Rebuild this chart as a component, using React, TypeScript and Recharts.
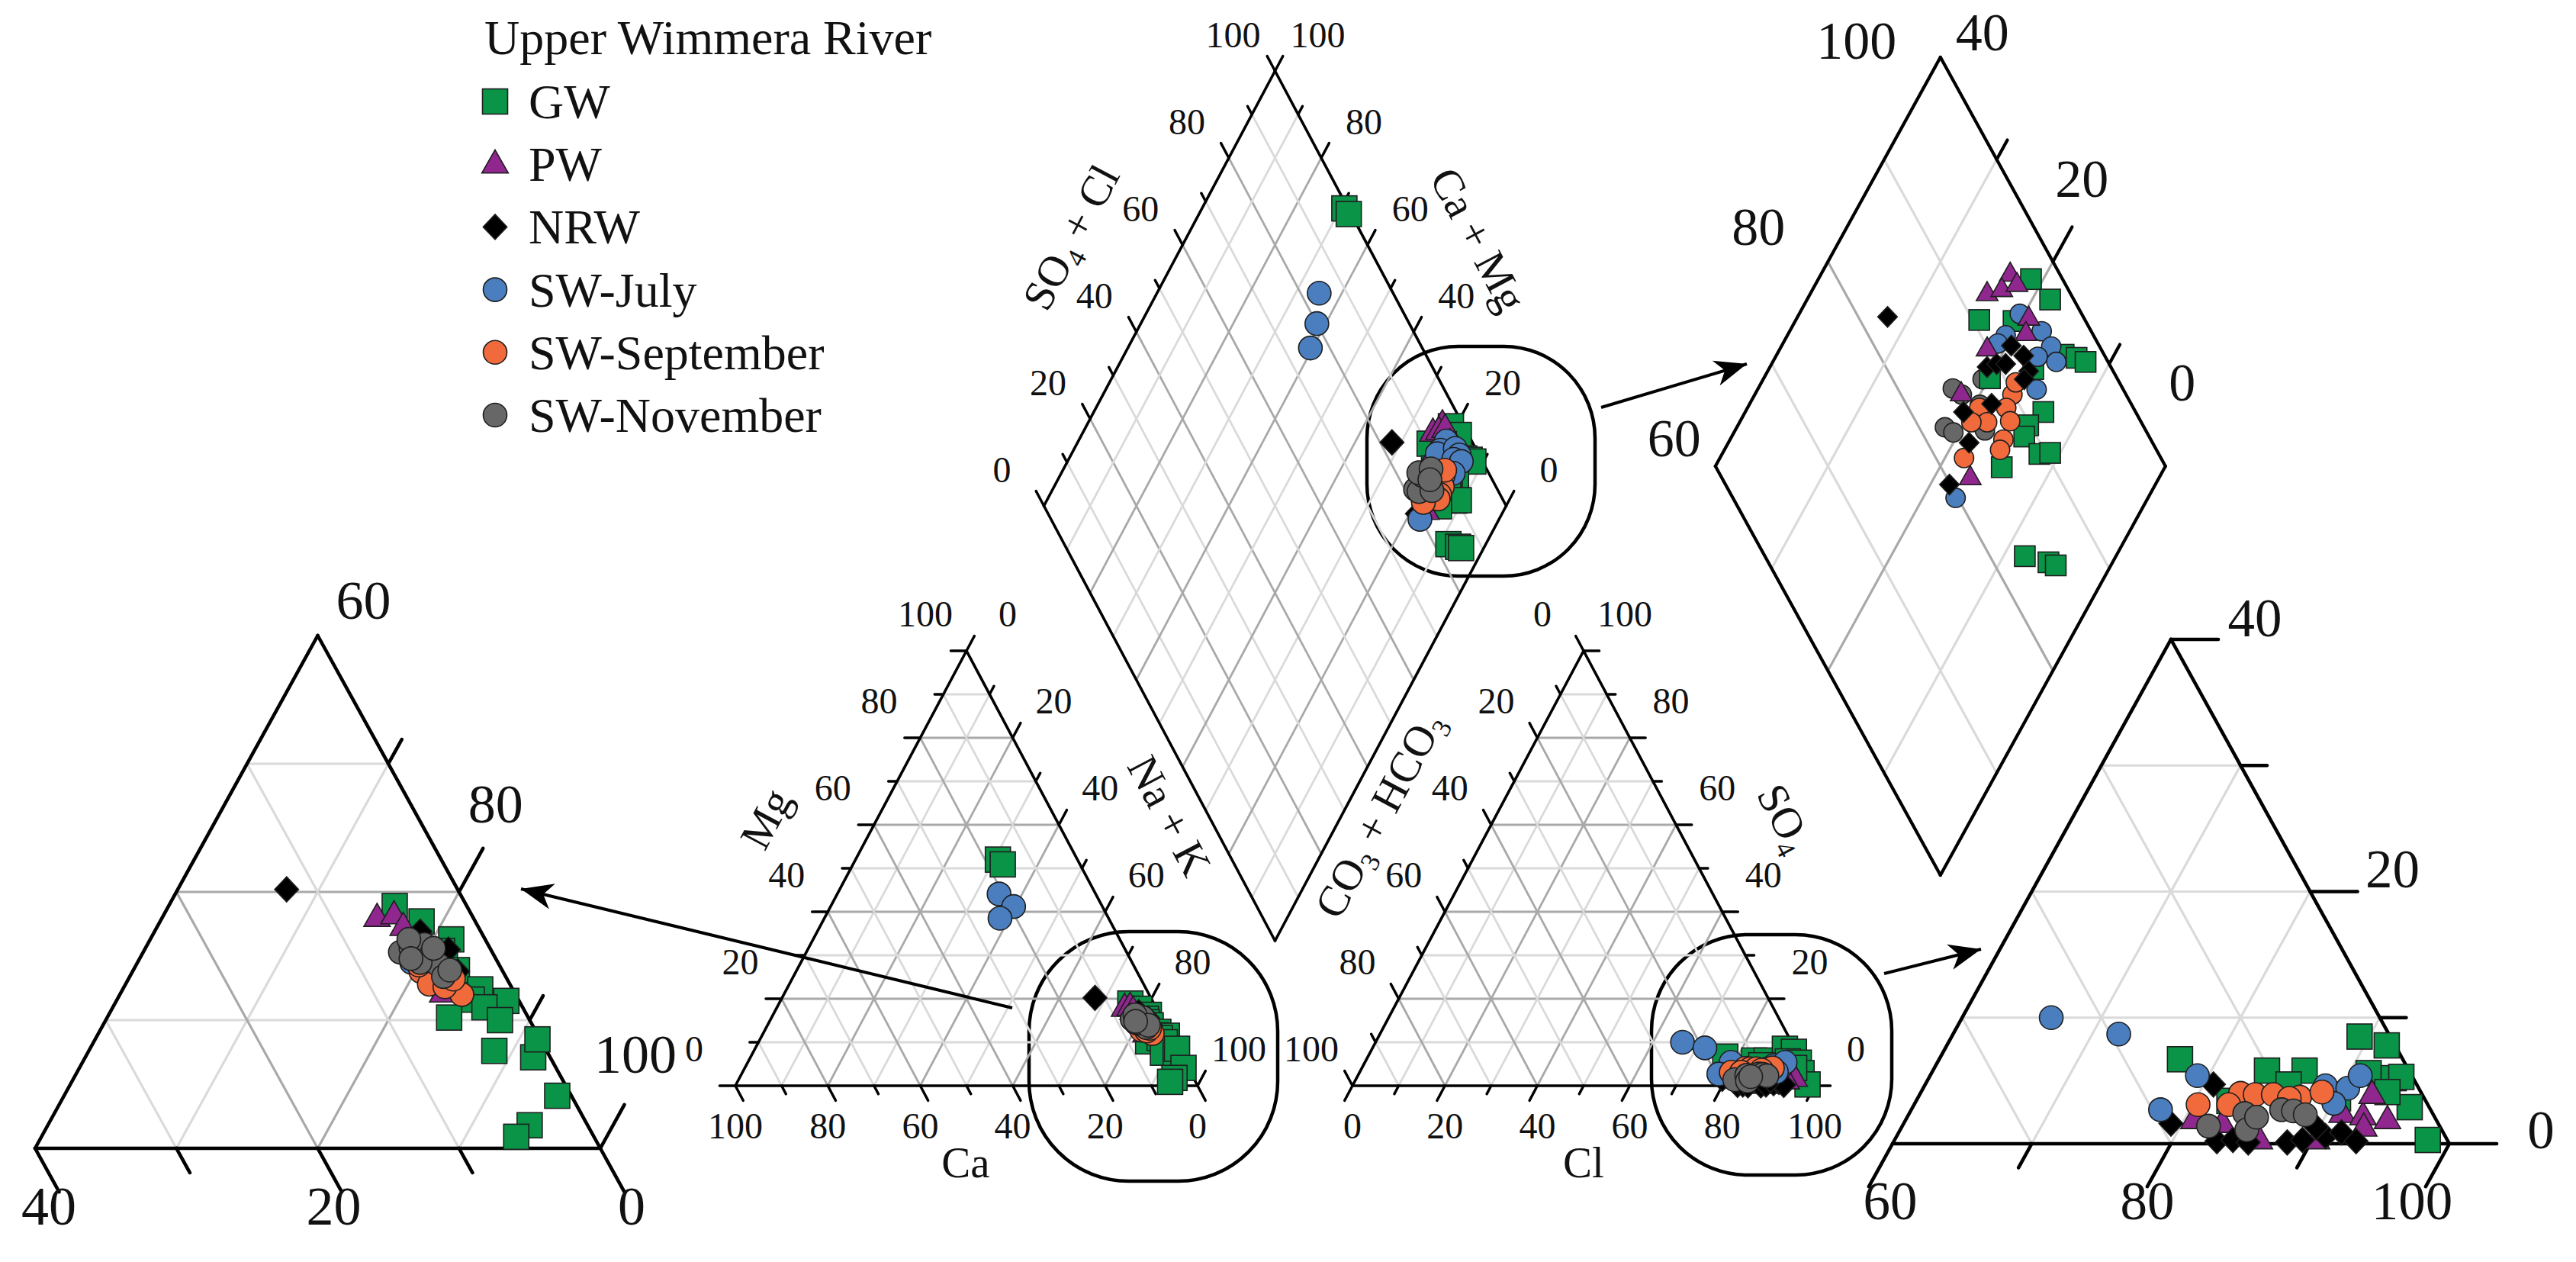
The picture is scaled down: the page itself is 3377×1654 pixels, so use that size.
import React from "react";
import { ScatterChart, Scatter, XAxis, YAxis, ReferenceLine, ReferenceArea } from "recharts";

const W = 3377;
const H = 1654;
const FONT = '"Liberation Serif", "Times New Roman", serif';
const MAJOR = "#a9a9a9";
const MINOR = "#dadada";

// ---- sample compositions, % of meq/L ----
// cation triangle: [Mg, Na+K]
const gwCation = [
  [52.0, 30.8], [50.9, 32.4], [18.9, 76.0], [17.7, 78.5], [16.3, 81.3], [15.4, 81.1],
  [14.6, 81.7], [13.9, 82.9], [12.4, 85.3], [11.6, 85.1], [11.5, 87.6], [10.2, 84.2],
  [11.0, 86.3], [10.0, 87.9], [7.6, 88.7], [7.1, 91.7], [8.5, 91.3], [4.1, 94.9],
  [1.8, 94.1], [0.9, 93.6],
];
const pwCation = [[18.0, 75.2], [18.2, 76.3], [17.3, 77.4], [15.0, 80.5], [12.1, 82.8], [14.0, 81.5]];
const nrwCation = [[20.2, 67.7], [16.9, 78.8], [13.8, 83.0], [15.5, 81.5], [14.8, 80.8]];
const julyCation = [[44.1, 35.0], [41.2, 39.6], [38.5, 38.0], [14.5, 79.4], [13.5, 81.8]];
const sepCation = [[13.8, 80.4], [12.8, 81.5], [12.0, 84.2], [12.6, 82.7], [14.3, 80.0], [13.2, 83.0]];
const novCation = [
  [15.3, 78.2], [15.6, 78.8], [15.9, 79.6], [14.9, 80.4], [14.3, 81.4], [13.4, 82.2],
  [14.5, 80.0], [15.6, 80.4], [16.3, 78.3], [13.9, 82.4], [14.8, 79.2],
];

// anion triangle: [SO4, Cl]
const gwAnion = [
  [6.7, 77.3], [5.8, 84.0], [5.8, 86.7], [8.5, 89.3], [7.8, 91.6], [5.6, 91.4], [5.2, 93.4],
  [5.3, 93.9], [2.9, 95.7], [0.3, 98.3], [3.6, 90.2], [4.7, 86.1], [3.4, 82.5], [3.2, 87.1],
  [4.1, 93.5],
];
const pwAnion = [[1.9, 80.7], [1.6, 82.9], [0.3, 86.2], [2.4, 91.1], [2.2, 92.7], [3.9, 92.5], [1.9, 94.6], [1.3, 93.2], [0.3, 90.3]];
const nrwAnion = [
  [4.7, 80.7], [1.6, 79.2], [0.2, 83.2], [0.3, 84.3], [0.1, 85.5], [0.1, 88.3], [0.3, 89.3],
  [0.6, 90.8], [0.9, 91.8], [0.2, 93.2], [1.3, 89.8],
];
const julyAnion = [[10.0, 66.4], [8.7, 71.9], [5.4, 79.2], [2.7, 77.9], [4.6, 88.8], [4.4, 90.5], [5.4, 90.9], [3.2, 90.1]];
const sepAnion = [[3.1, 80.4], [4.0, 83.0], [3.9, 84.1], [3.9, 85.4], [3.7, 87.4], [4.1, 88.8], [3.1, 82.6], [3.6, 86.7]];
const novAnion = [[1.4, 82.0], [2.4, 84.1], [1.1, 84.9], [2.7, 86.6], [2.6, 87.5], [2.3, 88.5], [2.1, 85.1]];

// diamond: [SO4+Cl, Ca+Mg]
const gwDiamond = [
  [99.2, 69.2], [99.5, 67.6], [97.2, 21.1], [97.9, 18.4], [90.6, 23.7], [93.6, 20.6],
  [96.4, 14.5], [97.4, 13.2], [98.0, 12.2], [88.7, 19.9], [91.8, 13.5], [89.8, 14.2],
  [88.9, 14.0], [89.4, 11.8], [90.4, 10.9], [85.4, 14.5], [83.1, 8.1], [84.9, 5.7],
  [85.4, 4.9], [93.0, 16.5],
];
const pwDiamond = [[95.6, 23.2], [92.6, 24.3], [94.1, 23.2], [95.7, 22.1], [95.1, 19.4], [94.1, 18.9], [89.9, 21.6], [85.4, 21.7], [82.1, 16.8]];
const nrwDiamond = [
  [82.6, 32.0], [92.2, 19.6], [92.8, 18.0], [89.0, 20.7], [90.0, 20.0], [90.8, 19.2],
  [92.5, 16.8], [91.7, 16.8], [84.7, 20.6], [87.6, 18.5], [83.7, 18.6], [79.9, 18.3],
];
const julyDiamond = [
  [84.0, 64.9], [80.0, 61.9], [75.8, 60.5], [94.5, 20.4], [92.2, 20.6], [91.1, 20.9],
  [95.6, 17.6], [95.7, 16.0], [94.0, 16.7], [95.4, 14.8], [92.3, 15.2], [79.8, 17.1],
];
const sepDiamond = [[89.9, 17.1], [88.7, 17.0], [86.3, 19.4], [86.3, 18.0], [88.4, 16.0], [86.9, 15.7], [86.1, 15.5], [82.5, 18.3], [90.8, 17.4], [84.9, 19.4]];
const novDiamond = [[82.3, 21.5], [82.8, 20.5], [85.7, 17.8], [85.4, 21.6], [84.9, 22.7], [88.0, 20.5], [86.5, 19.5]];

const groups = [
  { name: "GW", color: "#0a9447", kind: "square", cation: gwCation, anion: gwAnion, diamond: gwDiamond },
  { name: "PW", color: "#90278e", kind: "triangle", cation: pwCation, anion: pwAnion, diamond: pwDiamond },
  { name: "NRW", color: "#000000", kind: "diamond", cation: nrwCation, anion: nrwAnion, diamond: nrwDiamond },
  { name: "SW-July", color: "#4a7ebf", kind: "circle", cation: julyCation, anion: julyAnion, diamond: julyDiamond },
  { name: "SW-September", color: "#f06a3c", kind: "circle", cation: sepCation, anion: sepAnion, diamond: sepDiamond },
  { name: "SW-November", color: "#676767", kind: "circle", cation: novCation, anion: novAnion, diamond: novDiamond },
];

const mainTicks = [0, 20, 40, 60, 80, 100];

// ---- layout frames ----
type Pt = { x: number; y: number };
type Tri = { ox: number; oy: number; x0: number; L: number; sx: number; sy: number };
type Dia = { bx: number; by: number; a0: number; b0: number; L: number; hx: number; hy: number };

const catMain: Tri = { ox: 964, oy: 1423, x0: 0, L: 100, sx: 6.06, sy: 5.7 };
const aniMain: Tri = { ox: 1773, oy: 1423, x0: 0, L: 100, sx: 6.06, sy: 5.7 };
const catZoom: Tri = { ox: 46, oy: 1505, x0: 60, L: 40, sx: 18.525, sy: 16.8 };
const aniZoom: Tri = { ox: 2481, oy: 1499, x0: 60, L: 40, sx: 18.25, sy: 16.525 };
const diaMain: Dia = { bx: 1671.5, by: 1233, a0: 0, b0: 0, L: 100, hx: 3.03, hy: 5.7 };
const diaZoom: Dia = { bx: 2543.8, by: 1147, a0: 60, b0: 0, L: 40, hx: 7.375, hy: 13.4 };

const toTri = (f: Tri, x: number, y: number): Pt => ({ x: f.ox + f.sx * (x - f.x0), y: f.oy - f.sy * y });
const toDia = (f: Dia, a: number, b: number): Pt => ({
  x: f.bx + f.hx * (a - f.a0 - (b - f.b0)),
  y: f.by - f.hy * (a - f.a0 + (b - f.b0)),
});
const inTri = (f: Tri, x: number, y: number) =>
  y >= -0.5 && y <= 2 * (x - f.x0) + 0.5 && y <= 2 * (f.x0 + f.L - x) + 0.5;
const inDia = (f: Dia, a: number, b: number) =>
  a >= f.a0 - 0.5 && a <= f.a0 + f.L + 0.5 && b >= f.b0 - 0.5 && b <= f.b0 + f.L + 0.5;

// cation: x = Na+K + Mg/2 ; anion: x = Cl + SO4/2 ; y = Mg / SO4
const triXY = (v: number[]) => [v[1] + v[0] / 2, v[0]];

// ---- line work ----
type Seg = { p: Pt; q: Pt; stroke: string; w: number };
const segs: Seg[] = [];
const add = (p: Pt, q: Pt, stroke: string, w: number) => segs.push({ p, q, stroke, w });
const shade = (v: number, light: boolean) => (!light && v % 20 === 0 ? MAJOR : MINOR);

function triGrid(f: Tri, gw: number, ew: number, light = false) {
  const P = (x: number, y: number) => toTri(f, x, y);
  const x1 = f.x0 + f.L;
  for (let v = 10; v < f.L; v += 10) {
    const k = f.x0 + v;
    add(P(f.x0 + v / 2, v), P(x1 - v / 2, v), shade(v, light), gw);
    add(P(k, 0), P((k + f.x0) / 2, k - f.x0), shade(k, light), gw);
    add(P(k, 0), P((k + x1) / 2, x1 - k), shade(k, light), gw);
  }
  const A = P(f.x0, 0), B = P(x1, 0), C = P(f.x0 + f.L / 2, f.L);
  add(A, B, "#000", ew);
  add(B, C, "#000", ew);
  add(C, A, "#000", ew);
}

function diaGrid(f: Dia, gw: number, ew: number) {
  const Q = (a: number, b: number) => toDia(f, a, b);
  for (let v = 10; v < f.L; v += 10) {
    const a = f.a0 + v;
    const b = f.b0 + v;
    add(Q(a, f.b0), Q(a, f.b0 + f.L), shade(a, false), gw);
    add(Q(f.a0, b), Q(f.a0 + f.L, b), shade(b, false), gw);
  }
  const c = [Q(f.a0, f.b0), Q(f.a0 + f.L, f.b0), Q(f.a0 + f.L, f.b0 + f.L), Q(f.a0, f.b0 + f.L)];
  c.forEach((p, i) => add(p, c[(i + 1) % 4], "#000", ew));
}

function tickAt(P: (x: number, y: number) => Pt, x: number, y: number, dx: number, dy: number, major: boolean, w: number) {
  const d = major ? 3.4 : 1.9;
  add(P(x, y), P(x + dx * d, y + dy * d), "#000", w);
}

triGrid(catMain, 2.8, 3.6);
triGrid(aniMain, 2.8, 3.6);
diaGrid(diaMain, 2.8, 3.6);
triGrid(catZoom, 3.2, 4.6);
triGrid(aniZoom, 3.2, 4.6, true);
diaGrid(diaZoom, 3.2, 4.2);

{
  const Pc = (x: number, y: number) => toTri(catMain, x, y);
  const Pa = (x: number, y: number) => toTri(aniMain, x, y);
  const Qd = (a: number, b: number) => toDia(diaMain, a, b);
  for (let v = 0; v <= 100; v += 10) {
    const mj = v % 20 === 0;
    tickAt(Pc, v, 0, 0.5, -1, mj, 3.4);
    tickAt(Pc, v / 2, v, -1, 0, mj, 3.4);
    tickAt(Pc, (100 + v) / 2, 100 - v, 0.5, 1, mj, 3.4);
    tickAt(Pa, v, 0, -0.5, -1, mj, 3.4);
    tickAt(Pa, (100 - v) / 2, 100 - v, -0.5, 1, mj, 3.4);
    tickAt(Pa, 100 - v / 2, v, 1, 0, mj, 3.4);
    tickAt(Qd, v, 100, 0, 1, mj, 3.4);
    tickAt(Qd, 100, v, 1, 0, mj, 3.4);
  }
  const Pcz = (x: number, y: number) => toTri(catZoom, x, y);
  const Paz = (x: number, y: number) => toTri(aniZoom, x, y);
  const Qdz = (a: number, b: number) => toDia(diaZoom, a, b);
  for (let v = 60; v <= 100; v += 10) {
    const mj = v % 20 === 0;
    tickAt(Pcz, v, 0, 0.5, -1, mj, 4.6);
    if (v > 60) tickAt(Pcz, (100 + v) / 2, 100 - v, 0.5, 1, mj, 4.6);
    tickAt(Paz, v, 0, -0.5, -1, mj, 4.6);
  }
  for (let s = 0; s <= 40; s += 10) tickAt(Paz, 100 - s / 2, s, 1, 0, s % 20 === 0, 4.6);
  for (let b = 10; b <= 30; b += 10) tickAt(Qdz, 100, b, 1, 0, b % 20 === 0, 4.2);
}

// zoom outlines and arrows
const boxes = [
  { x1: 1349, x2: 1675, y1: 1221, y2: 1548 },
  { x1: 2165, x2: 2480, y1: 1225, y2: 1540 },
  { x1: 1792, x2: 2091, y1: 454, y2: 755 },
];
const arrows = [
  { from: { x: 1327, y: 1321 }, to: { x: 683, y: 1165 } },
  { from: { x: 2099, y: 534 }, to: { x: 2290, y: 477 } },
  { from: { x: 2470, y: 1276 }, to: { x: 2597, y: 1244 } },
];
const arrowTips = arrows.map((a) => ({
  x: a.to.x,
  y: a.to.y,
  ang: (Math.atan2(a.to.y - a.from.y, a.to.x - a.from.x) * 180) / Math.PI,
}));

// ---- text ----
type Lab = { x: number; y: number; text: string; fs: number; rot?: number; anchor?: string; base?: boolean };
const labels: Lab[] = [];
const lab = (p: Pt, dx: number, dy: number, text: string, fs: number) =>
  labels.push({ x: p.x + dx, y: p.y + dy, text, fs });

mainTicks.forEach((v) => {
  lab(toTri(catMain, 100 - v, 0), 0, 69, String(v), 48);
  lab(toTri(catMain, v / 2, v), -54, -32, String(v), 48);
  lab(toTri(catMain, (100 + v) / 2, 100 - v), 54, -32, String(v), 48);
  lab(toTri(aniMain, v, 0), 0, 69, String(v), 48);
  lab(toTri(aniMain, (100 - v) / 2, 100 - v), -54, -32, String(v), 48);
  lab(toTri(aniMain, 100 - v / 2, v), 54, -32, String(v), 48);
  lab(toDia(diaMain, v, 100), -55, -31, String(v), 48);
  lab(toDia(diaMain, 100, v), 56, -31, String(v), 48);
});

[{ v: 60, dx: 60, dy: -22 }, { v: 80, dx: 48, dy: -91 }, { v: 100, dx: 46, dy: -99 }].forEach((o) =>
  lab(toTri(catZoom, (100 + o.v) / 2, 100 - o.v), o.dx, o.dy, String(o.v), 72));
[{ v: 40, dx: 18, dy: 100 }, { v: 20, dx: 21, dy: 100 }, { v: 0, dx: 41, dy: 100 }].forEach((o) =>
  lab(toTri(catZoom, 100 - o.v, 0), o.dx, o.dy, String(o.v), 72));
[{ v: 60, dx: -3, dy: 99 }, { v: 80, dx: -31, dy: 99 }, { v: 100, dx: -49, dy: 99 }].forEach((o) =>
  lab(toTri(aniZoom, o.v, 0), o.dx, o.dy, String(o.v), 71));
[{ v: 40, dx: 110, dy: -4 }, { v: 20, dx: 108, dy: -6 }, { v: 0, dx: 120, dy: 6 }].forEach((o) =>
  lab(toTri(aniZoom, 100 - o.v / 2, o.v), o.dx, o.dy, String(o.v), 71));
[{ v: 100, dx: -110, dy: 2 }, { v: 80, dx: -91, dy: -22 }, { v: 60, dx: -54, dy: -13 }].forEach((o) =>
  lab(toDia(diaZoom, o.v, 40), o.dx, o.dy, String(o.v), 70));
[{ v: 40, dx: 55, dy: -9 }, { v: 20, dx: 38, dy: -85 }, { v: 0, dx: 22, dy: -86 }].forEach((o) =>
  lab(toDia(diaZoom, 100, o.v), o.dx, o.dy, String(o.v), 70));

labels.push(
  { x: 1021, y: 1082, text: "Mg", fs: 57, rot: -62 },
  { x: 1516, y: 1078, text: "Na + K", fs: 57, rot: 62 },
  { x: 1266, y: 1543, text: "Ca", fs: 57 },
  { x: 1825, y: 1077, text: "CO_3 + HCO_3", fs: 57, rot: -62 },
  { x: 2323, y: 1081, text: "SO_4", fs: 57, rot: 62 },
  { x: 2076, y: 1543, text: "Cl", fs: 57 },
  { x: 1421, y: 320, text: "SO_4 + Cl", fs: 57, rot: -62 },
  { x: 1921, y: 323, text: "Ca + Mg", fs: 57, rot: 62 },
  { x: 635, y: 71, text: "Upper Wimmera River", fs: 64, anchor: "start", base: true },
);
groups.forEach((g, i) =>
  labels.push({ x: 693, y: 155 + i * 82.2, text: g.name, fs: 64, anchor: "start", base: true }));
const legendMarks = groups.map((g, i) => ({ x: 649, y: 133 + i * 82.2, kind: g.kind, color: g.color }));

function Rich({ text, fs }: { text: string; fs: number }) {
  const parts = text.split(/(_\d)/).filter((s) => s.length > 0);
  let low = false;
  return (
    <>
      {parts.map((s, i) => {
        if (s.startsWith("_")) {
          low = true;
          return <tspan key={i} fontSize={fs * 0.62} dy={fs * 0.2}>{s.slice(1)}</tspan>;
        }
        const dy = low ? -fs * 0.2 : 0;
        low = false;
        return <tspan key={i} dy={dy} style={{ whiteSpace: "pre" }}>{s}</tspan>;
      })}
    </>
  );
}

function Marker({ kind, cx, cy, s, fill }: { kind: string; cx: number; cy: number; s: number; fill: string }) {
  const st = { fill, stroke: "#1e1e1e", strokeWidth: 1.6 };
  if (kind === "square") return <rect x={cx - s / 2} y={cy - s / 2} width={s} height={s} {...st} />;
  if (kind === "triangle") {
    const w = s * 1.05, h = s * 0.92;
    return <polygon points={`${cx},${cy - h * 0.62} ${cx + w / 2},${cy + h * 0.38} ${cx - w / 2},${cy + h * 0.38}`} {...st} />;
  }
  if (kind === "diamond") {
    const w = s * 0.95, h = s;
    return <polygon points={`${cx},${cy - h / 2} ${cx + w / 2},${cy} ${cx},${cy + h / 2} ${cx - w / 2},${cy}`} {...st} />;
  }
  return <circle cx={cx} cy={cy} r={s * 0.47} {...st} />;
}

// ---- marker layers ----
type Layer = { key: string; kind: string; color: string; size: number; pts: Pt[] };
const layers: Layer[] = [];
const mainOrder = ["GW", "PW", "NRW", "SW-July", "SW-September", "SW-November"];
const diaZoomOrder = ["SW-November", "GW", "SW-July", "PW", "SW-September", "NRW"];
const byName = (n: string) => groups.find((g) => g.name === n)!;

function triLayer(id: string, f: Tri, order: string[], size: number, pick: (g: any) => number[][]) {
  order.forEach((n) => {
    const g = byName(n);
    const pts = pick(g).map(triXY).filter(([x, y]) => inTri(f, x, y)).map(([x, y]) => toTri(f, x, y));
    layers.push({ key: `${id}-${n}`, kind: g.kind, color: g.color, size, pts });
  });
}
function diaLayer(id: string, f: Dia, order: string[], size: number) {
  order.forEach((n) => {
    const g = byName(n);
    const pts = g.diamond.filter(([a, b]) => inDia(f, a, b)).map(([a, b]) => toDia(f, a, b));
    layers.push({ key: `${id}-${n}`, kind: g.kind, color: g.color, size, pts });
  });
}
triLayer("cat", catMain, mainOrder, 33, (g) => g.cation);
triLayer("ani", aniMain, mainOrder, 33, (g) => g.anion);
diaLayer("dia", diaMain, mainOrder, 33);
triLayer("catz", catZoom, mainOrder, 33, (g) => g.cation);
triLayer("aniz", aniZoom, mainOrder, 33, (g) => g.anion);
diaLayer("diaz", diaZoom, diaZoomOrder, 27);

export default function App() {
  return (
    <div style={{ position: "fixed", left: 0, top: 0, width: W, height: H, background: "#fff" }}>
      <ScatterChart width={W} height={H} margin={{ top: 0, right: 0, bottom: 0, left: 0 }}>
        <XAxis type="number" dataKey="x" domain={[0, W]} hide allowDataOverflow />
        <YAxis type="number" dataKey="y" domain={[0, H]} reversed hide allowDataOverflow />
        {segs.map((s, i) => (
          <ReferenceLine
            key={`s${i}`}
            segment={[s.p, s.q]}
            stroke={s.stroke}
            strokeWidth={s.w}
            strokeLinecap="round"
            ifOverflow="visible"
          />
        ))}
        {boxes.map((b, i) => (
          <ReferenceArea
            key={`b${i}`}
            x1={b.x1}
            x2={b.x2}
            y1={b.y1}
            y2={b.y2}
            ifOverflow="visible"
            shape={(p: any) => (
              <rect x={p.x} y={p.y} width={p.width} height={p.height} rx={p.width * 0.4} ry={p.height * 0.4}
                fill="none" stroke="#000" strokeWidth={4.5} />
            )}
          />
        ))}
        {arrows.map((a, i) => (
          <ReferenceLine key={`a${i}`} segment={[a.from, a.to]} stroke="#000" strokeWidth={4} ifOverflow="visible" />
        ))}
        <Scatter
          data={arrowTips}
          isAnimationActive={false}
          shape={(p: any) => (
            <polygon
              points="0,0 -42,-17 -30,0 -42,17"
              transform={`translate(${p.cx} ${p.cy}) rotate(${p.payload.ang})`}
              fill="#000"
            />
          )}
        />
        {layers.map((l) => (
          <Scatter
            key={l.key}
            data={l.pts}
            isAnimationActive={false}
            shape={(p: any) => <Marker kind={l.kind} cx={p.cx} cy={p.cy} s={l.size} fill={l.color} />}
          />
        ))}
        <Scatter
          data={legendMarks}
          isAnimationActive={false}
          shape={(p: any) => <Marker kind={p.payload.kind} cx={p.cx} cy={p.cy} s={33} fill={p.payload.color} />}
        />
        <Scatter
          data={labels}
          isAnimationActive={false}
          shape={(p: any) => {
            const d = p.payload as Lab;
            return (
              <text
                x={p.cx}
                y={p.cy}
                dy={d.base ? 0 : "0.35em"}
                textAnchor={d.anchor || "middle"}
                transform={d.rot ? `rotate(${d.rot} ${p.cx} ${p.cy})` : undefined}
                fontSize={d.fs}
                fontFamily={FONT}
                fill="#111"
              >
                <Rich text={d.text} fs={d.fs} />
              </text>
            );
          }}
        />
      </ScatterChart>
    </div>
  );
}
